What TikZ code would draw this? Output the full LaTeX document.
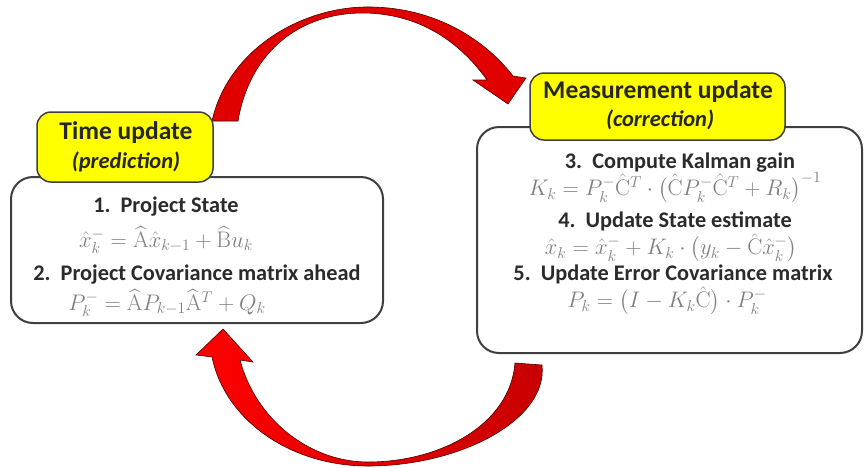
\documentclass[tikz,border=0pt]{standalone}
\usepackage{fix-cm}
\usepackage[no-math]{fontspec}
\setmainfont{Carlito}
\usepackage{amsmath}
\definecolor{framegray}{HTML}{3F3F3F}
\definecolor{tagyellow}{HTML}{FFFF00}
\definecolor{arrowred}{HTML}{E00000}
\definecolor{mathgray}{HTML}{7F7F7F}
\definecolor{stepgray}{HTML}{2B2B2B}
\newcommand{\hatrm}[1]{\widehat{\mathrm{#1}}}
\newcommand{\crm}{\hat{\mathrm{C}}}
\begin{document}
\begin{tikzpicture}[x=1pt,y=-1pt,
  phasebox/.style={draw=framegray, line width=2pt, rounded corners=22pt, fill=white},
  phasetag/.style={draw=framegray, line width=1.5pt, fill=tagyellow, rounded corners=14pt},
  tagtitle/.style={inner sep=0pt, font=\fontsize{25.5}{29}\selectfont\bfseries, text=black!85},
  tagsub/.style={inner sep=0pt, font=\fontsize{22.5}{26}\selectfont\bfseries\itshape, text=black!85},
  steptext/.style={inner sep=0pt, font=\fontsize{22.3}{26}\selectfont\bfseries, text=stepgray},
  eqtext/.style={inner sep=0pt, font=\fontsize{22.5}{26}\selectfont, text=mathgray},
  loop arrow/.style={draw=red!30!black, line width=0.6pt}]
\useasboundingbox (0,0) rectangle (864,467);

% the two red loop arrows
\draw[loop arrow, fill=arrowred] (212,121) .. controls (228,50) and (300,8) .. (365,7)
  .. controls (430,6) and (482,36) .. (513,76) -- (526,78) -- (508,104)
  -- (473,80) -- (487,80) .. controls (460,42) and (420,14) .. (365,13)
  .. controls (302,12) and (250,50) .. (238,121) -- cycle;
\draw[loop arrow, left color=red, right color=red!78!black] (515,363) -- (542,365)
  .. controls (548,420) and (460,466) .. (368,466)
  .. controls (290,466) and (225,420) .. (212,357) -- (196,355) -- (223,329)
  -- (253,362) -- (240,360) .. controls (256,420) and (310,462) .. (368,462)
  .. controls (440,462) and (510,425) .. (515,363) -- cycle;

% time update
\node[phasebox, minimum width=372pt, minimum height=146pt] (timebox) at (197,250) {};
\node[phasetag, minimum width=176pt, minimum height=70pt] (timetag) at (125,147) {};
\node[tagtitle] (timetitle) at (126,133) {Time update};
\node[tagsub] (timesub) at (126,162) {(prediction)};
\node[steptext] (step1) at (166,207) {1.\ \ Project State};
\node[eqtext] (eq1) at (166,240) {$\hat{x}_k^{-} = \hatrm{A}\hat{x}_{k-1} + \hatrm{B}u_k$};
\node[steptext] (step2) at (197,275) {2.\ \ Project Covariance matrix ahead};
\node[eqtext] (eq2) at (167,303) {$P_k^{-} = \hatrm{A}P_{k-1}\hatrm{A}^T + Q_k$};

% measurement update
\node[phasebox, minimum width=385pt, minimum height=226pt] (measbox) at (669.5,240) {};
\node[phasetag, minimum width=255pt, minimum height=67pt] (meastag) at (657.5,106.5) {};
\node[tagtitle] (meastitle) at (658,92) {Measurement update};
\node[tagsub] (meassub) at (660,120) {(correction)};
\node[steptext] (step3) at (680,163) {3.\ \ Compute Kalman gain};
\node[eqtext] (eq3) at (675,188) {$K_k = P_k^{-}\crm^T\cdot\bigl(\crm P_k^{-}\crm^T + R_k\bigr)^{-1}$};
\node[steptext] (step4) at (675,221) {4.\ \ Update State estimate};
\node[eqtext] (eq4) at (671,248) {$\hat{x}_k = \hat{x}_k^{-} + K_k\cdot\bigl(y_k - \crm\hat{x}_k^{-}\bigr)$};
\node[steptext] (step5) at (673,274) {5.\ \ Update Error Covariance matrix};
\node[eqtext] (eq5) at (667,301) {$P_k = \bigl(I - K_k\crm\bigr)\cdot P_k^{-}$};
\end{tikzpicture}
\end{document}
